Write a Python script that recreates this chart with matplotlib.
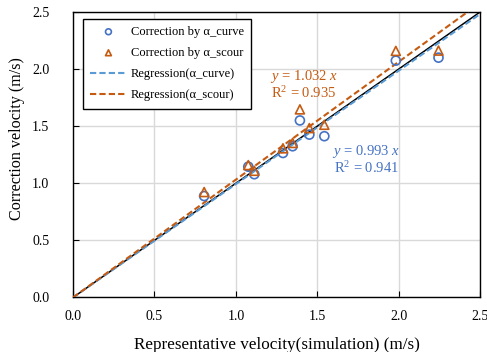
import matplotlib
matplotlib.use("Agg")
import matplotlib.pyplot as plt
import numpy as np

plt.rcParams['font.family'] = ['Liberation Serif', 'DejaVu Serif']
plt.rcParams['mathtext.fontset'] = 'custom'
plt.rcParams['mathtext.rm'] = 'Liberation Serif'
plt.rcParams['mathtext.it'] = 'Liberation Serif:italic'

x_sim = [0.805, 1.076, 1.113, 1.289, 1.348, 1.393, 1.451, 1.543, 1.982, 2.244]
v_curve = [0.888, 1.145, 1.079, 1.265, 1.324, 1.550, 1.426, 1.412, 2.074, 2.100]
v_scour = [0.923, 1.159, 1.109, 1.306, 1.353, 1.647, 1.483, 1.512, 2.159, 2.162]
slope_curve = 0.993
slope_scour = 1.032
r2_curve = 0.941
r2_scour = 0.935
ticks = [0.0, 0.5, 1.0, 1.5, 2.0, 2.5]

c_blue = '#4472C4'
c_blue_line = '#5B9BD5'
c_orange = '#C55A11'

fig = plt.figure(figsize=(4.87, 3.52), dpi=100)
ax = fig.add_axes([0.150, 0.155, 0.836, 0.811])

line = np.array([0.0, 2.5])
ax.plot(line, line, color='black', lw=1.1, zorder=2)
ax.plot(line, slope_curve * line, color=c_blue_line, lw=1.5, ls=(0, (3, 1.5)), zorder=3,
        label='Regression(α_curve)')
ax.plot(line, slope_scour * line, color=c_orange, lw=1.5, ls=(0, (3, 1.5)), zorder=3,
        label='Regression(α_scour)')
ax.scatter(x_sim, v_curve, marker='o', s=42, facecolors='none', edgecolors=c_blue, lw=1.2,
           zorder=4, label='Correction by α_curve')
ax.scatter(x_sim, v_scour, marker='^', s=42, facecolors='none', edgecolors=c_orange, lw=1.2,
           zorder=4, label='Correction by α_scour')

ax.set_xlim(0, 2.5)
ax.set_ylim(0, 2.5)
ax.set_xticks(ticks)
ax.set_yticks(ticks)
ax.set_xticklabels([f'{t:.1f}' for t in ticks])
ax.set_yticklabels([f'{t:.1f}' for t in ticks])
ax.tick_params(direction='in', labelsize=10, length=4, width=0.8)
ax.tick_params(axis='y', pad=17)
ax.tick_params(axis='x', pad=9)
ax.grid(True, color='#D9D9D9', lw=1.0)
ax.set_axisbelow(True)
for s in ax.spines.values():
    s.set_linewidth(1.0)

ax.set_xlabel('Representative velocity(simulation) (m/s)', fontsize=12.3, labelpad=10)
ax.set_ylabel('Correction velocity (m/s)', fontsize=11.6)
ax.yaxis.set_label_coords(-0.118, 0.555)

handles, labels = ax.get_legend_handles_labels()
order = [2, 3, 0, 1]
leg = ax.legend([handles[i] for i in order], [labels[i] for i in order],
                loc='upper left', bbox_to_anchor=(0.024, 0.977), fontsize=9,
                frameon=True, fancybox=False, edgecolor='black', framealpha=1,
                handlelength=2.9, borderpad=0.6, labelspacing=0.72, handletextpad=0.35,
                borderaxespad=0.0, markerscale=0.65)
leg.get_frame().set_linewidth(1.0)

ax.text(1.418, 1.935, f'$y$ = {slope_scour} $x$', color=c_orange, fontsize=10.5, ha='center', va='center')
ax.text(1.418, 1.79, f'R$^2$ = {r2_scour}', color=c_orange, fontsize=10.5, ha='center', va='center')
ax.text(1.80, 1.28, f'$y$ = {slope_curve} $x$', color=c_blue, fontsize=10.5, ha='center', va='center')
ax.text(1.80, 1.13, f'R$^2$ = {r2_curve}', color=c_blue, fontsize=10.5, ha='center', va='center')

fig.savefig('out.png', dpi=100)
